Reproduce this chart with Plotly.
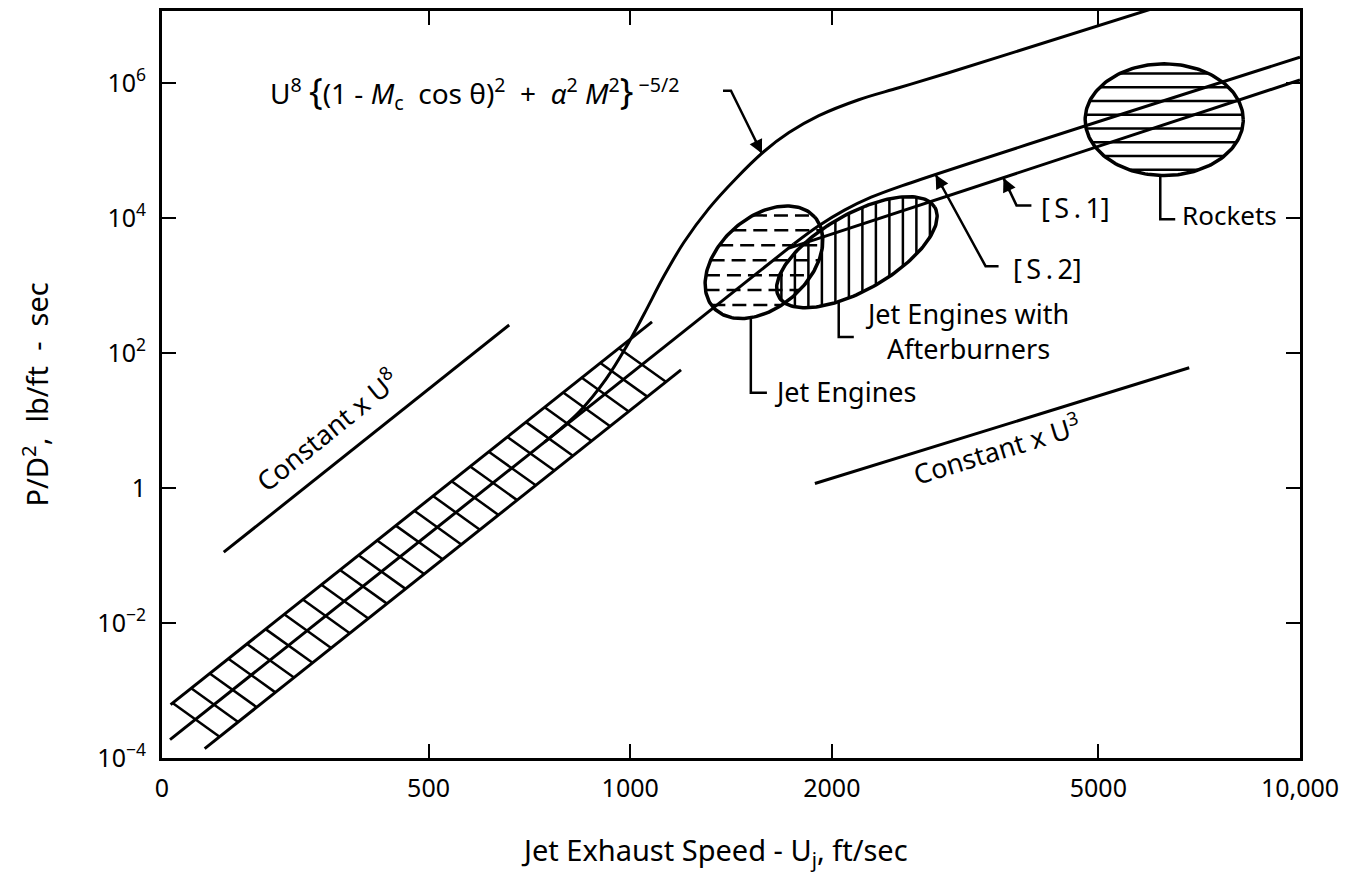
import numpy as np
import plotly.graph_objects as go

# ---------------- axis ticks ----------------
x_tick_vals = [200, 500, 1000, 2000, 5000, 10000]
x_tick_text = ["0", "500", "1000", "2000", "5000", "10,000"]
y_tick_vals = [1e-4, 1e-2, 1, 1e2, 1e4, 1e6]
y_tick_text = ["10<sup>−4</sup>", "10<sup>−2</sup>", "1",
               "10<sup>2</sup>", "10<sup>4</sup>", "10<sup>6</sup>"]

# ---------------- curves: U (ft/sec) vs P/D^2 (lb/ft-sec) ----------------
# Lighthill U^8 law, centre of the measured band
lighthill_u = [205.6, 1755.0]
lighthill_p = [1.875e-4, 4.10e3]

# limits of the scatter band around the U^8 law
band_upper_u = [206.0, 1078.0]
band_upper_p = [6.17e-4, 287.0]
band_lower_u = [231.6, 1191.0]
band_lower_p = [1.38e-4, 56.1]

# high-speed branches [S.1] and [S.2]
s1_u = [1726.0, 10000.0]
s1_p = [3.55e3, 1.10e6]
s2_u = [1755.0, 1912.0, 2089.0, 2290.0, 2518.0, 10000.0]
s2_p = [4.10e3, 7.62e3, 1.30e4, 2.02e4, 2.88e4, 2.39e6]

# U^8 {(1 - Mc cos th)^2 + a^2 M^2}^-5/2 (convective amplification)
conv_u = [744.6, 839.6, 920.8, 986.4, 1049, 1123, 1203, 1311, 1439,
          1584, 1726, 1913, 2194, 2518, 2988, 6100]
conv_p = [4.76, 13.46, 41.3, 122.7, 376.7, 1371, 4345, 1.38e4, 3.828e4,
          9.594e4, 1.828e5, 3.258e5, 5.61e5, 8.433e5, 1.406e6, 1.303e7]

# reference slopes
u8_ref_u = [247.3, 659.8]
u8_ref_p = [0.1117, 258.8]
u3_ref_u = [1887.0, 6833.0]
u3_ref_p = [1.164, 60.1]

# source regions: centre, semi-axes (in decades of P, equal screen scale), tilt
region_names = ["Jet Engines", "Jet Engines with<br>Afterburners", "Rockets"]
region_u = [1584.0, 2180.0, 6270.0]
region_p = [2.20e3, 3.10e3, 2.84e5]
region_major = [1.004, 1.328, 1.166]
region_minor = [0.664, 0.561, 0.827]
region_tilt = [42.0, 30.0, 0.0]

# ---------------- geometry of the plotting area ----------------
FIG_W, FIG_H = 1351, 873
M_L, M_R, M_T, M_B = 162, 51, 8, 115
W = FIG_W - M_L - M_R
H = FIG_H - M_T - M_B
XR = [np.log10(200.0), 4.0]
YR = [-4.0, 7.063]
PXX = W / (XR[1] - XR[0])
PXY = H / (YR[1] - YR[0])


def to_px(u, p):
    return (np.log10(u) - XR[0]) * PXX, (np.log10(p) - YR[0]) * PXY


def from_px(x, y):
    return 10 ** (np.asarray(x) / PXX + XR[0]), 10 ** (np.asarray(y) / PXY + YR[0])


fig = go.Figure()


def add_line(u, p, width=3.0, shape="linear", dash=None):
    fig.add_trace(go.Scatter(
        x=u, y=p, mode="lines", hoverinfo="skip", showlegend=False,
        line=dict(color="black", width=width, shape=shape, dash=dash)))


def add_segments(segs, width=2.5, dash=None):
    xs, ys = [], []
    for (x0, y0), (x1, y1) in segs:
        (u0, u1), (p0, p1) = from_px([x0, x1], [y0, y1])
        xs += [u0, u1, None]
        ys += [p0, p1, None]
    add_line(xs, ys, width=width, dash=dash)


# ---------------- band with cross hatching ----------------
ux0, uy0 = to_px(band_upper_u[0], band_upper_p[0])
ux1, uy1 = to_px(band_upper_u[1], band_upper_p[1])
lx0, ly0 = to_px(band_lower_u[0], band_lower_p[0])
lx1, ly1 = to_px(band_lower_u[1], band_lower_p[1])
mu = (uy1 - uy0) / (ux1 - ux0)
ml = (ly1 - ly0) / (lx1 - lx0)
H_SLOPE = -0.72
H_STEP = 18.6
band_hatch = []
xu = ux0 + 2.0
while xu <= ux1 + 0.5:
    yu = uy0 + mu * (xu - ux0)
    xl = (ly0 - ml * lx0 - yu + H_SLOPE * xu) / (H_SLOPE - ml)
    if lx0 - 4 <= xl <= lx1 + 1:
        yl = ly0 + ml * (xl - lx0)
        band_hatch.append(((xu, yu), (xl, yl)))
    xu += H_STEP
add_segments(band_hatch, width=2.5)
add_line(band_upper_u, band_upper_p, width=3)
add_line(band_lower_u, band_lower_p, width=3)

# ---------------- theory curves ----------------
add_line(lighthill_u, lighthill_p, width=3)
add_line(s1_u, s1_p, width=3)
add_line(s2_u, s2_p, width=3, shape="spline")
add_line(conv_u, conv_p, width=3, shape="spline")
add_line(u8_ref_u, u8_ref_p, width=3)
add_line(u3_ref_u, u3_ref_p, width=3)


# ---------------- source regions ----------------
def ellipse_chords(a, b, th, offsets, vertical):
    s, c = np.sin(th), np.cos(th)
    out = []
    for h in offsets:
        if not vertical:
            A = c * c / a ** 2 + s * s / b ** 2
            C = h * h * (s * s / a ** 2 + c * c / b ** 2) - 1
        else:
            A = s * s / a ** 2 + c * c / b ** 2
            C = h * h * (c * c / a ** 2 + s * s / b ** 2) - 1
        B = 2 * h * s * c * (1 / a ** 2 - 1 / b ** 2)
        disc = B * B - 4 * A * C
        if disc <= 0:
            continue
        r0 = (-B - np.sqrt(disc)) / (2 * A)
        r1 = (-B + np.sqrt(disc)) / (2 * A)
        out.append((h, r0, r1))
    return out


# hatch style per region: (direction, spacing px, phase px, dash)
hatch_style = [("h", 15.0, -2.0, "14px,7px"),
               ("v", 13.5, -8.0, None),
               ("h", 13.8, -4.9, None)]

for i in range(len(region_names)):
    cx, cy = to_px(region_u[i], region_p[i])
    a = region_major[i] * PXY
    b = region_minor[i] * PXY
    th = np.radians(region_tilt[i])
    t = np.linspace(0, 2 * np.pi, 181)
    ex = cx + a * np.cos(t) * np.cos(th) - b * np.sin(t) * np.sin(th)
    ey = cy + a * np.cos(t) * np.sin(th) + b * np.sin(t) * np.cos(th)
    eu, ep = from_px(ex, ey)
    direction, step, phase, dash = hatch_style[i]
    vertical = direction == "v"
    span = a + 2
    offs = np.arange(phase - step * np.floor((span + phase) / step), span, step)
    segs = []
    if vertical:
        for h, r0, r1 in ellipse_chords(a, b, th, offs, True):
            segs.append(((cx + h, cy + r0), (cx + h, cy + r1)))
    else:
        # offsets measured downward on screen
        for h, r0, r1 in ellipse_chords(a, b, th, -offs, False):
            segs.append(((cx + r0, cy + h), (cx + r1, cy + h)))
    add_segments(segs, width=2.5, dash=dash)
    add_line(list(eu), list(ep), width=3.5)

# ---------------- annotations ----------------
FONT = "Noto Sans"
L10 = np.log10


def text(u, p, s, anchor="left", angle=0, size=27):
    fig.add_annotation(x=L10(u), y=L10(p), xref="x", yref="y", text=s,
                       showarrow=False, xanchor=anchor, yanchor="middle",
                       textangle=angle, align="center",
                       font=dict(family=FONT, size=size, color="black"))


def leader(us, ps, head=False):
    add_line(us, ps, width=2.5)
    if head:
        x0, y0 = to_px(us[0], ps[0])
        x1, y1 = to_px(us[1], ps[1])
        d = np.hypot(x1 - x0, y1 - y0)
        fig.add_annotation(x=L10(us[0]), y=L10(ps[0]), xref="x", yref="y",
                           ax=(x1 - x0) / d * 16, ay=-(y1 - y0) / d * 16,
                           text="", font=dict(size=1), showarrow=True,
                           arrowhead=2, arrowsize=1.1, arrowwidth=2.5,
                           arrowcolor="black", standoff=0)


# callout leaders (tip first)
leader([1573, 1414, 1376], [8.954e4, 7.621e5, 7.621e5], head=True)
leader([3608, 3774, 3972], [3.899e4, 1.528e4, 1.528e4], head=True)
leader([2858, 3393, 3548], [4.345e4, 1923, 1923], head=True)
leader([1514, 1514, 1600], [332.7, 25.7, 25.7])
leader([2048, 2048, 2157], [566, 172.2, 172.2])
leader([6186, 6186, 6512], [4.236e4, 9506, 9506])

big = '<span style="font-size:36px">'
text(287.8, 7.62e5,
     "U<sup>8</sup> " + big + "{</span>(1 - <i>M</i><sub>c</sub>  cos θ)<sup>2</sup>  +  "
     "<i>α</i><sup>2</sup> <i>M</i><sup>2</sup>" + big + "}</span><sup> −5/2</sup>",
     size=28)
thin = "\u2009"
text(4070, 1.429e4, "[" + thin + "S" + thin + "." + thin + "1]")
text(3698, 1799, "[" + thin + "S" + thin + "." + thin + "2]")
text(6624, 1.089e4, region_names[2], size=26)
text(1628, 26.5, region_names[0])
text(3178, 211.3, region_names[1], anchor="center")
text(352, 7.3, "Constant x U<sup>8</sup>", anchor="center", angle=-39)
text(3520, 3.90, "Constant x U<sup>3</sup>", anchor="center", angle=-17)

# axis titles
TITLE_FONT = dict(family=FONT, size=29, color="black")
fig.add_annotation(x=(714 - M_L) / W, y=(M_T + H - 852) / H, xref="paper", yref="paper",
                   text="Jet Exhaust Speed - U<sub>j</sub>, ft/sec", showarrow=False,
                   font=TITLE_FONT, xanchor="center", yanchor="middle")
fig.add_annotation(x=(35 - M_L) / W, y=(M_T + H - 393) / H, xref="paper", yref="paper",
                   text="P/D<sup>2</sup>,  lb/ft  -  sec", showarrow=False, textangle=-90,
                   font=TITLE_FONT, xanchor="center", yanchor="middle")

axis_common = dict(showline=True, linecolor="black", linewidth=3, mirror="ticks",
                   ticks="inside", ticklen=14, tickwidth=2, tickcolor="black",
                   showgrid=False, zeroline=False,
                   tickfont=dict(family=FONT, size=25, color="black"))
fig.update_xaxes(type="log", range=XR, tickmode="array", tickvals=x_tick_vals,
                 ticktext=x_tick_text, ticklabelstandoff=6, **axis_common)
fig.update_yaxes(type="log", range=YR, tickmode="array", tickvals=y_tick_vals,
                 ticktext=y_tick_text, ticklabelstandoff=8, **axis_common)

fig.update_layout(width=FIG_W, height=FIG_H, autosize=False,
                  margin=dict(l=M_L, r=M_R, t=M_T, b=M_B),
                  paper_bgcolor="white", plot_bgcolor="white",
                  showlegend=False)

fig.write_html("out.html")
